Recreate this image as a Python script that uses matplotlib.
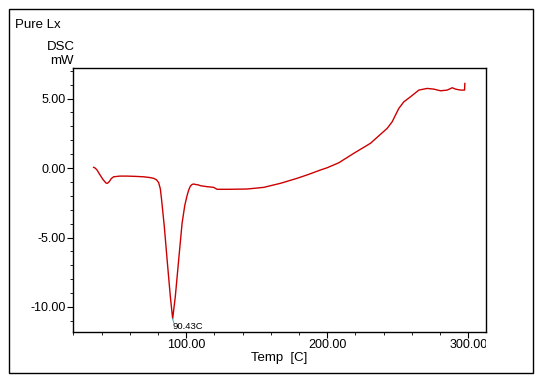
import matplotlib
matplotlib.use("Agg")
import matplotlib.pyplot as plt
from matplotlib.patches import Rectangle
from matplotlib.ticker import MultipleLocator, FormatStrFormatter
from matplotlib.transforms import Bbox, TransformedBbox

plt.rcParams['font.family'] = ['Liberation Sans', 'DejaVu Sans']

temp = [34.4, 35.5, 36.8, 38.5, 41.0, 43.2, 44.2, 45.5, 47.0, 48.6, 53.0, 58.0, 64.0,
        69.9, 74.0, 77.0, 79.0, 80.5, 81.7, 82.5, 83.5, 84.5, 86.5, 88.8, 90.43,
        92.3, 94.7, 97.1, 99.0, 100.6, 101.8, 103.0, 104.2, 105.3, 106.5, 108.9,
        110.0, 114.8, 119.5, 121.9, 130.0, 143.2, 155.0, 166.8, 178.6, 187.0,
        195.2, 199.9, 208.2, 218.8, 230.6, 242.5, 246.0, 250.7, 254.3, 259.0,
        264.9, 270.8, 275.5, 280.3, 285.0, 288.6, 290.9, 294.5, 297.3, 297.5]
dsc = [0.05, 0.0, -0.14, -0.42, -0.82, -1.08, -1.10, -0.98, -0.75, -0.63, -0.58, -0.58, -0.60,
       -0.63, -0.68, -0.74, -0.85, -1.05, -1.50, -2.20, -3.20, -4.20, -6.60, -9.26, -10.85,
       -9.26, -6.60, -3.98, -2.70, -2.00, -1.58, -1.30, -1.18, -1.15, -1.18, -1.22,
       -1.27, -1.34, -1.39, -1.53, -1.53, -1.51, -1.39, -1.10, -0.74, -0.45,
       -0.14, 0.02, 0.38, 1.06, 1.78, 2.86, 3.33, 4.29, 4.77, 5.13,
       5.61, 5.73, 5.68, 5.56, 5.61, 5.78, 5.68, 5.61, 5.61, 6.09]

peak_temp = 90.43
peak_val = -10.85
peak_label = "90.43C"

xticks = [100, 200, 300]
yticks = [-10, -5, 0, 5]

fig = plt.figure(figsize=(5.43, 3.83), dpi=100)
ax = fig.add_axes([73/543, 1-332/383, (486-73)/543, (332-68)/383])

ax.plot(temp, dsc, color='#cc0000', lw=1.0)
ax.plot([peak_temp, peak_temp + 0.8], [peak_val, peak_val - 0.3], color='#40c0c0', lw=0.8)
ax.text(peak_temp, peak_val - 0.25, peak_label, fontsize=6.8, ha='left', va='top')

ax.set_xlim(19.8, 312.5)
ax.set_ylim(-11.8, 7.2)
ax.set_xticks(xticks)
ax.set_yticks(yticks)
ax.xaxis.set_major_formatter(FormatStrFormatter('%.2f'))
ax.yaxis.set_major_formatter(FormatStrFormatter('%.2f'))
ax.xaxis.set_minor_locator(MultipleLocator(20))
ax.yaxis.set_minor_locator(MultipleLocator(1))
ax.tick_params(which='major', direction='out', length=4, width=0.8, labelsize=9, pad=1)
ax.tick_params(which='minor', direction='out', length=2, width=0.6)
ax.tick_params(top=False, right=False)
for s in ax.spines.values():
    s.set_linewidth(1.0)
ax.set_xlabel('Temp  [C]', fontsize=9.5, labelpad=1)

clip = TransformedBbox(Bbox([[-1.0, -1.0], [1.0, 2.0]]), ax.transAxes)
for lab in ax.get_xticklabels():
    lab.set_clip_box(clip)
    lab.set_clip_on(True)

fig.text(15/543, 1-25/383, 'Pure Lx', fontsize=9.5, ha='left', va='center')
fig.text(75/543, 1-47/383, 'DSC', fontsize=9.5, ha='right', va='center')
fig.text(74/543, 1-61/383, 'mW', fontsize=9.5, ha='right', va='center')

fig.patches.append(Rectangle((9/543, 1-373/383), (533-9)/543, (373-9)/383,
                             transform=fig.transFigure, fill=False, ec='black', lw=1.0))

fig.savefig('out.png', dpi=100)
